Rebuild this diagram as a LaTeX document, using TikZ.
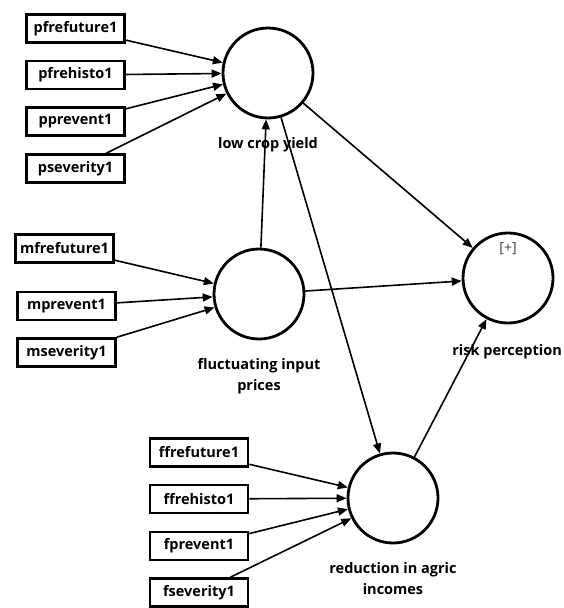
\documentclass[tikz,border=0pt]{standalone}
\usepackage{fontspec}
\setmainfont{Open Sans}
\usetikzlibrary{arrows.meta}
\begin{document}
\begin{tikzpicture}[x=1pt,y=-1pt,
 ind/.style={draw, line width=2.6pt, minimum width=98pt, minimum height=28pt, inner sep=0pt, font=\fontsize{14.5}{16}\selectfont\bfseries},
 lat/.style={draw, circle, line width=2.8pt, minimum size=90pt, inner sep=0pt},
 lbl/.style={font=\fontsize{14.5}{21}\selectfont\bfseries, align=center},
 arr/.style={line width=1.6pt, -{Triangle[length=10pt,width=8pt]}}]
\useasboundingbox (0,0) rectangle (563,608);
% latent variables
\node[lat] (L) at (268,73) {};
\node[lat] (F) at (259,294) {};
\node[lat] (R) at (508,278) {};
\node[lat] (I) at (393,498) {};
% labels
\node[lbl] (Ll) at (268,145) {low crop yield};
\node[lbl] (Fl) at (259,376) {fluctuating input\\prices};
\node[lbl, anchor=east, inner xsep=1pt] (Rl) at (563,352) {risk perception};
\node[lbl] (Il) at (393,579) {reduction in agric\\incomes};
\node[font=\fontsize{14}{16}\selectfont, text=black!75] (plus) at (508,249) {[+]};
% indicators
\node[ind] (p1) at (75.5,28.5) {pfrefuture1};
\node[ind] (p2) at (75.5,75) {pfrehisto1};
\node[ind] (p3) at (75.5,121.5) {pprevent1};
\node[ind] (p4) at (75.5,168.5) {pseverity1};
\node[ind] (m1) at (64.5,248.5) {mfrefuture1};
\node[ind] (m2) at (66.5,306) {mprevent1};
\node[ind] (m3) at (66.5,352.5) {mseverity1};
\node[ind] (f1) at (199,452.5) {ffrefuture1};
\node[ind] (f2) at (199,499) {ffrehisto1};
\node[ind] (f3) at (199,546) {fprevent1};
\node[ind] (f4) at (199,592.5) {fseverity1};
% connectors
\foreach \s in {p1,p2,p3,p4} \draw[arr] (\s) -- (L);
\foreach \s in {m1,m2,m3} \draw[arr] (\s) -- (F);
\foreach \s in {f1,f2,f3,f4} \draw[arr] (\s) -- (I);
\draw[arr] (F) -- (L);
\draw[arr] (L) -- (I);
\draw[arr] (L) -- (R);
\draw[arr] (F) -- (R);
\draw[arr] (I) -- (R);
\end{tikzpicture}
\end{document}
